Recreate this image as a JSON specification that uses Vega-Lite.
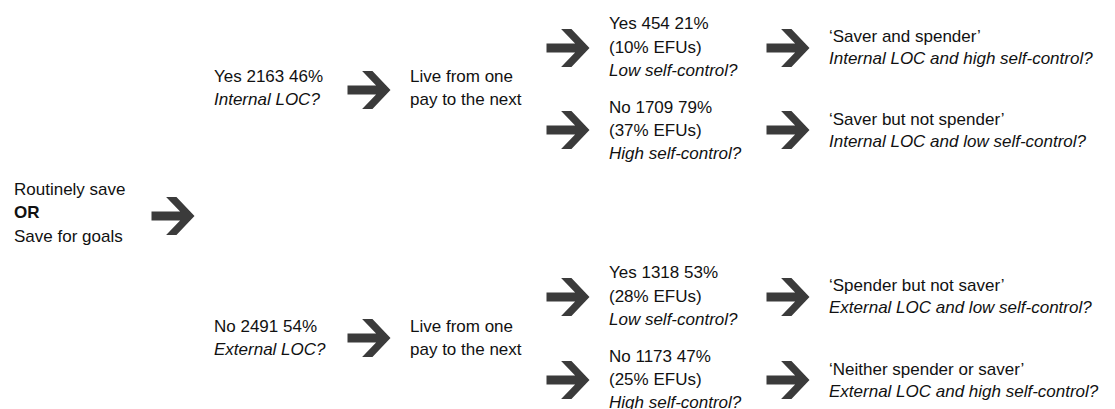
{
  "$schema": "https://vega.github.io/schema/vega-lite/v6.json",
  "width": 1115,
  "height": 409,
  "padding": 0,
  "autosize": {"type": "none"},
  "background": "white",
  "config": {"view": {"stroke": null}},
  "datasets": {
    "texts": [
      {"x": 14, "y": 190, "text": "Routinely save", "w": "n"},
      {"x": 14, "y": 213, "text": "OR", "w": "b"},
      {"x": 14, "y": 237, "text": "Save for goals", "w": "n"},
      {"x": 214, "y": 77, "text": "Yes 2163 46%", "w": "n"},
      {"x": 214, "y": 100, "text": "Internal LOC?", "w": "i"},
      {"x": 410, "y": 77, "text": "Live from one", "w": "n"},
      {"x": 410, "y": 100, "text": "pay to the next", "w": "n"},
      {"x": 609, "y": 24, "text": "Yes 454 21%", "w": "n"},
      {"x": 609, "y": 48, "text": "(10% EFUs)", "w": "n"},
      {"x": 609, "y": 71, "text": "Low self-control?", "w": "i"},
      {"x": 609, "y": 108, "text": "No 1709 79%", "w": "n"},
      {"x": 609, "y": 131, "text": "(37% EFUs)", "w": "n"},
      {"x": 609, "y": 154, "text": "High self-control?", "w": "i"},
      {"x": 829, "y": 37, "text": "‘Saver and spender’", "w": "n"},
      {"x": 829, "y": 59, "text": "Internal LOC and high self-control?", "w": "i"},
      {"x": 829, "y": 120, "text": "‘Saver but not spender’", "w": "n"},
      {"x": 829, "y": 142, "text": "Internal LOC and low self-control?", "w": "i"},
      {"x": 214, "y": 327, "text": "No 2491 54%", "w": "n"},
      {"x": 214, "y": 350, "text": "External LOC?", "w": "i"},
      {"x": 410, "y": 327, "text": "Live from one", "w": "n"},
      {"x": 410, "y": 350, "text": "pay to the next", "w": "n"},
      {"x": 609, "y": 273, "text": "Yes 1318 53%", "w": "n"},
      {"x": 609, "y": 297, "text": "(28% EFUs)", "w": "n"},
      {"x": 609, "y": 320, "text": "Low self-control?", "w": "i"},
      {"x": 609, "y": 357, "text": "No 1173 47%", "w": "n"},
      {"x": 609, "y": 380, "text": "(25% EFUs)", "w": "n"},
      {"x": 609, "y": 403, "text": "High self-control?", "w": "i"},
      {"x": 829, "y": 286, "text": "‘Spender but not saver’", "w": "n"},
      {"x": 829, "y": 308, "text": "External LOC and low self-control?", "w": "i"},
      {"x": 829, "y": 370, "text": "‘Neither spender or saver’", "w": "n"},
      {"x": 829, "y": 392, "text": "External LOC and high self-control?", "w": "i"}
    ],
    "arrows": [
      {"x": 173, "y": 216},
      {"x": 369, "y": 90},
      {"x": 568, "y": 48},
      {"x": 568, "y": 130},
      {"x": 788, "y": 48},
      {"x": 788, "y": 130},
      {"x": 369, "y": 338},
      {"x": 568, "y": 297},
      {"x": 568, "y": 380},
      {"x": 788, "y": 297},
      {"x": 788, "y": 380}
    ]
  },
  "encoding": {
    "x": {"field": "x", "type": "quantitative", "scale": {"domain": [0, 1115], "nice": false, "zero": false}, "axis": null},
    "y": {"field": "y", "type": "quantitative", "scale": {"domain": [0, 409], "nice": false, "zero": false, "reverse": true}, "axis": null}
  },
  "layer": [
    {
      "data": {"name": "arrows"},
      "mark": {"type": "point", "shape": "M-1,-0.21L0.33,-0.21L-0.32,-0.88L0.16,-0.88L1,0L0.16,0.88L-0.32,0.88L0.33,0.21L-1,0.21Z", "filled": true, "size": 1849, "color": "#3b3b3b", "opacity": 1, "strokeWidth": 0}
    },
    {
      "data": {"name": "texts"},
      "transform": [{"filter": "datum.w === 'n'"}],
      "mark": {"type": "text", "align": "left", "baseline": "middle", "font": "Liberation Sans", "fontSize": 17, "color": "#111111"},
      "encoding": {"text": {"field": "text"}}
    },
    {
      "data": {"name": "texts"},
      "transform": [{"filter": "datum.w === 'i'"}],
      "mark": {"type": "text", "align": "left", "baseline": "middle", "font": "Liberation Sans", "fontSize": 17, "fontStyle": "italic", "color": "#111111"},
      "encoding": {"text": {"field": "text"}}
    },
    {
      "data": {"name": "texts"},
      "transform": [{"filter": "datum.w === 'b'"}],
      "mark": {"type": "text", "align": "left", "baseline": "middle", "font": "Liberation Sans", "fontSize": 17, "fontWeight": "bold", "color": "#111111"},
      "encoding": {"text": {"field": "text"}}
    }
  ]
}
